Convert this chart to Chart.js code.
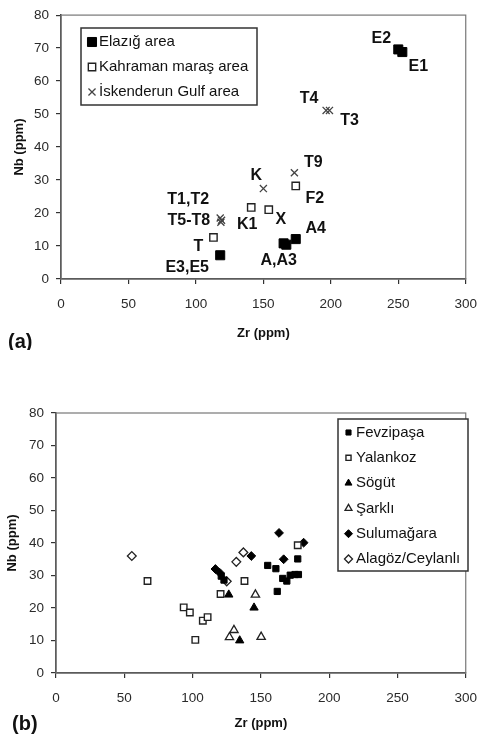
<!DOCTYPE html>
<html>
<head>
<meta charset="utf-8">
<script src="https://cdn.jsdelivr.net/npm/chart.js@4.4.1/dist/chart.umd.min.js"></script>
<style>
  html, body { margin: 0; padding: 0; background: #fff; }
  body { width: 489px; height: 741px; position: relative; overflow: hidden; }
  .panel { position: absolute; left: 0; width: 489px; }
  #panelA { top: 0; height: 350px; }
  #panelB { top: 380px; height: 361px; }
</style>
</head>
<body>
<div class="panel" id="panelA"><canvas id="chartA"></canvas></div>
<div class="panel" id="panelB"><canvas id="chartB"></canvas></div>
<script>
// ---- Axis ticks (shared by both panels) ----
const zrTicks = [0, 50, 100, 150, 200, 250, 300];
const nbTicks = [0, 10, 20, 30, 40, 50, 60, 70, 80];

// ---- Panel (a): sample groups ----
const elazigZr  = [250, 253, 118, 165, 167, 174];
const elazigNb  = [69.6, 68.8, 7.2, 10.8, 10.4, 12.1];
const elazigIds = ['E2', 'E1', 'E3,E5', 'A,A3', '', 'A4'];

const kahramanZr  = [113, 141, 154, 174];
const kahramanNb  = [12.6, 21.7, 21.0, 28.2];
const kahramanIds = ['T', 'K1', 'X', 'F2'];

const iskenderunZr  = [118, 118.5, 119, 150, 173, 196.5, 199];
const iskenderunNb  = [18.5, 17.2, 17.8, 27.4, 32.2, 51.1, 51.1];
const iskenderunIds = ['T1,T2', 'T5-T8', '', 'K', 'T9', 'T4', 'T3'];

// Label placement (pixel shift from the marker centre)
const elazigIdShift     = [[-17, -11], [16, 15], [-33, 12], [-5, 17], [0, 0], [20, -10]];
const kahramanIdShift   = [[-15, 9], [-4, 17], [12, 10], [19, 13]];
const iskenderunIdShift = [[-32, -18], [-32, -2], [0, 0], [-7, -13], [19, -10], [-17, -12], [20, 10]];

// ---- Panel (b): sample groups ----
const fevzipasaZr = [155, 161, 162, 177, 166, 169, 171.5, 175, 177.5, 121, 123];
const fevzipasaNb = [33.1, 32.1, 25.1, 35.1, 29.1, 28.3, 30.1, 30.3, 30.3, 29.8, 28.6];

const yalankozZr = [67, 93.5, 98, 107.5, 111, 102, 120.5, 138, 177];
const yalankozNb = [28.3, 20.2, 18.6, 16.1, 17.2, 10.2, 24.3, 28.3, 39.3];

const sogutZr = [126.5, 145, 134.5];
const sogutNb = [24.1, 20.1, 10.0];

const sarkliZr = [127, 130.3, 146, 150.2];
const sarkliNb = [11.0, 13.2, 24.1, 11.1];

const sulumagaraZr = [163.3, 143, 166.7, 181.3, 116.7, 120];
const sulumagaraNb = [43.1, 36.0, 35.0, 40.1, 32.0, 30.8];

const alagozZr = [55.5, 132, 137.2, 125];
const alagozNb = [36.0, 34.2, 37.1, 28.2];

const FONT = '"Liberation Sans", Arial, Helvetica, sans-serif';

function points(xs, ys) {
  return xs.map((x, i) => ({ x: x, y: ys[i] }));
}

// Chart frame: thin border round the plot area
const framePlugin = {
  id: 'frame',
  beforeDatasetsDraw(chart) {
    const a = chart.chartArea;
    const ctx = chart.ctx;
    ctx.save();
    ctx.strokeStyle = '#777';
    ctx.lineWidth = 1.2;
    ctx.strokeRect(a.left, a.top, a.right - a.left, a.bottom - a.top);
    ctx.restore();
  }
};

// Sample identifiers written beside their markers
const sampleIdPlugin = {
  id: 'sampleIds',
  afterDatasetsDraw(chart) {
    const ctx = chart.ctx;
    ctx.save();
    ctx.font = 'bold 16px ' + FONT;
    ctx.fillStyle = '#111';
    ctx.textAlign = 'center';
    ctx.textBaseline = 'middle';
    chart.data.datasets.forEach((ds, i) => {
      if (!ds.sampleIds) return;
      const meta = chart.getDatasetMeta(i);
      meta.data.forEach((pt, j) => {
        const name = ds.sampleIds[j];
        if (!name) return;
        const s = ds.idShift[j];
        ctx.fillText(name, pt.x + s[0], pt.y + s[1]);
      });
    });
    ctx.restore();
  }
};

// Boxed legend drawn inside the plot area
const boxLegendPlugin = {
  id: 'boxLegend',
  afterDraw(chart, args, o) {
    const ctx = chart.ctx;
    ctx.save();
    ctx.fillStyle = '#fff';
    ctx.fillRect(o.x, o.y, o.w, o.h);
    ctx.strokeStyle = '#333';
    ctx.lineWidth = 1.5;
    ctx.strokeRect(o.x, o.y, o.w, o.h);
    chart.data.datasets.forEach((ds, i) => {
      const cy = o.y + o.firstRow + i * o.rowH;
      ctx.fillStyle = ds.backgroundColor;
      ctx.strokeStyle = ds.borderColor;
      ctx.lineWidth = ds.borderWidth;
      Chart.helpers.drawPoint(ctx, {
        pointStyle: ds.pointStyle,
        radius: ds.legendRadius,
        rotation: 0,
        borderWidth: ds.borderWidth
      }, o.x + o.markerX, cy);
      ctx.fillStyle = '#111';
      ctx.font = o.fontSize + 'px ' + FONT;
      ctx.textAlign = 'left';
      ctx.textBaseline = 'middle';
      ctx.fillText(ds.label, o.x + o.textX, cy);
    });
    ctx.restore();
  }
};

// Panel letter
const panelTagPlugin = {
  id: 'panelTag',
  afterDraw(chart, args, o) {
    const ctx = chart.ctx;
    ctx.save();
    ctx.font = 'bold 20px ' + FONT;
    ctx.fillStyle = '#111';
    ctx.textAlign = 'left';
    ctx.textBaseline = 'middle';
    ctx.fillText(o.text, o.x, o.y);
    ctx.restore();
  }
};

function makeScales(yWidth, xHeight, yTitlePad, xTitlePad) {
  const tickFont = { family: FONT, size: 13.5 };
  const titleFont = { family: FONT, size: 13, weight: 'bold' };
  const grid = {
    display: true, drawOnChartArea: false, drawTicks: true,
    tickLength: 5, color: '#333', lineWidth: 1.2
  };
  return {
    x: {
      type: 'linear', position: 'bottom',
      min: zrTicks[0], max: zrTicks[zrTicks.length - 1],
      afterBuildTicks: s => { s.ticks = zrTicks.map(v => ({ value: v })); },
      afterFit: s => { s.height = xHeight; },
      ticks: { font: tickFont, color: '#2a2a2a', padding: 12, maxRotation: 0, autoSkip: false },
      grid: grid,
      border: { display: true, color: '#333', width: 1.5 },
      title: { display: true, text: 'Zr (ppm)', font: titleFont, color: '#111',
               padding: { top: 0, bottom: xTitlePad } }
    },
    y: {
      type: 'linear', position: 'left',
      min: nbTicks[0], max: nbTicks[nbTicks.length - 1],
      afterBuildTicks: s => { s.ticks = nbTicks.map(v => ({ value: v })); },
      afterFit: s => { s.width = yWidth; },
      ticks: { font: tickFont, color: '#2a2a2a', padding: 7, autoSkip: false },
      grid: grid,
      border: { display: true, color: '#333', width: 1.5 },
      title: { display: true, text: 'Nb (ppm)', font: titleFont, color: '#111',
               padding: { top: yTitlePad, bottom: 0 } }
    }
  };
}

const baseOptions = {
  responsive: true,
  maintainAspectRatio: false,
  animation: false,
  events: [],
  plugins: { legend: { display: false }, tooltip: { enabled: false } }
};

// ---- Panel (a) ----
new Chart(document.getElementById('chartA'), {
  type: 'scatter',
  data: {
    datasets: [
      {
        label: 'Elazığ area',
        data: points(elazigZr, elazigNb),
        sampleIds: elazigIds, idShift: elazigIdShift,
        pointStyle: 'rect', pointRadius: 6.4, legendRadius: 6.4,
        backgroundColor: '#000', borderColor: '#000', borderWidth: 1
      },
      {
        label: 'Kahraman maraş area',
        data: points(kahramanZr, kahramanNb),
        sampleIds: kahramanIds, idShift: kahramanIdShift,
        pointStyle: 'rect', pointRadius: 5.2, legendRadius: 5.2,
        backgroundColor: '#fff', borderColor: '#222', borderWidth: 1.4
      },
      {
        label: 'İskenderun Gulf area',
        data: points(iskenderunZr, iskenderunNb),
        sampleIds: iskenderunIds, idShift: iskenderunIdShift,
        pointStyle: 'crossRot', pointRadius: 5, legendRadius: 5,
        backgroundColor: '#444', borderColor: '#444', borderWidth: 1.3
      }
    ]
  },
  options: Object.assign({}, baseOptions, {
    layout: { padding: { top: 12, right: 12, left: 0, bottom: 0 } },
    scales: makeScales(61, 71, 12, 9),
    plugins: Object.assign({}, baseOptions.plugins, {
      boxLegend: { x: 81, y: 28, w: 176, h: 77, firstRow: 14, rowH: 25, markerX: 11, textX: 18, fontSize: 15 },
      panelTag: { text: '(a)', x: 8, y: 342 }
    })
  }),
  plugins: [framePlugin, sampleIdPlugin, boxLegendPlugin, panelTagPlugin]
});

// ---- Panel (b) ----
new Chart(document.getElementById('chartB'), {
  type: 'scatter',
  data: {
    datasets: [
      {
        label: 'Fevzipaşa',
        data: points(fevzipasaZr, fevzipasaNb),
        pointStyle: 'rect', pointRadius: 4.4, legendRadius: 3.6,
        backgroundColor: '#000', borderColor: '#000', borderWidth: 1
      },
      {
        label: 'Yalankoz',
        data: points(yalankozZr, yalankozNb),
        pointStyle: 'rect', pointRadius: 4.6, legendRadius: 3.6,
        backgroundColor: '#fff', borderColor: '#222', borderWidth: 1.4
      },
      {
        label: 'Sögüt',
        data: points(sogutZr, sogutNb),
        pointStyle: 'triangle', pointRadius: 4.8, legendRadius: 4,
        backgroundColor: '#000', borderColor: '#000', borderWidth: 1
      },
      {
        label: 'Şarklı',
        data: points(sarkliZr, sarkliNb),
        pointStyle: 'triangle', pointRadius: 4.8, legendRadius: 4,
        backgroundColor: '#fff', borderColor: '#222', borderWidth: 1.3
      },
      {
        label: 'Sulumağara',
        data: points(sulumagaraZr, sulumagaraNb),
        pointStyle: 'rectRot', pointRadius: 4.4, legendRadius: 4,
        backgroundColor: '#000', borderColor: '#000', borderWidth: 1
      },
      {
        label: 'Alagöz/Ceylanlı',
        data: points(alagozZr, alagozNb),
        pointStyle: 'rectRot', pointRadius: 4.4, legendRadius: 4,
        backgroundColor: '#fff', borderColor: '#222', borderWidth: 1.3
      }
    ]
  },
  options: Object.assign({}, baseOptions, {
    layout: { padding: { top: 33, right: 15, left: 0, bottom: 0 } },
    scales: makeScales(56, 68, 5, 10),
    plugins: Object.assign({}, baseOptions.plugins, {
      boxLegend: { x: 338, y: 39, w: 130, h: 152, firstRow: 13.5, rowH: 25.3, markerX: 10.5, textX: 18, fontSize: 15 },
      panelTag: { text: '(b)', x: 12, y: 344 }
    })
  }),
  plugins: [framePlugin, boxLegendPlugin, panelTagPlugin]
});
</script>
</body>
</html>
